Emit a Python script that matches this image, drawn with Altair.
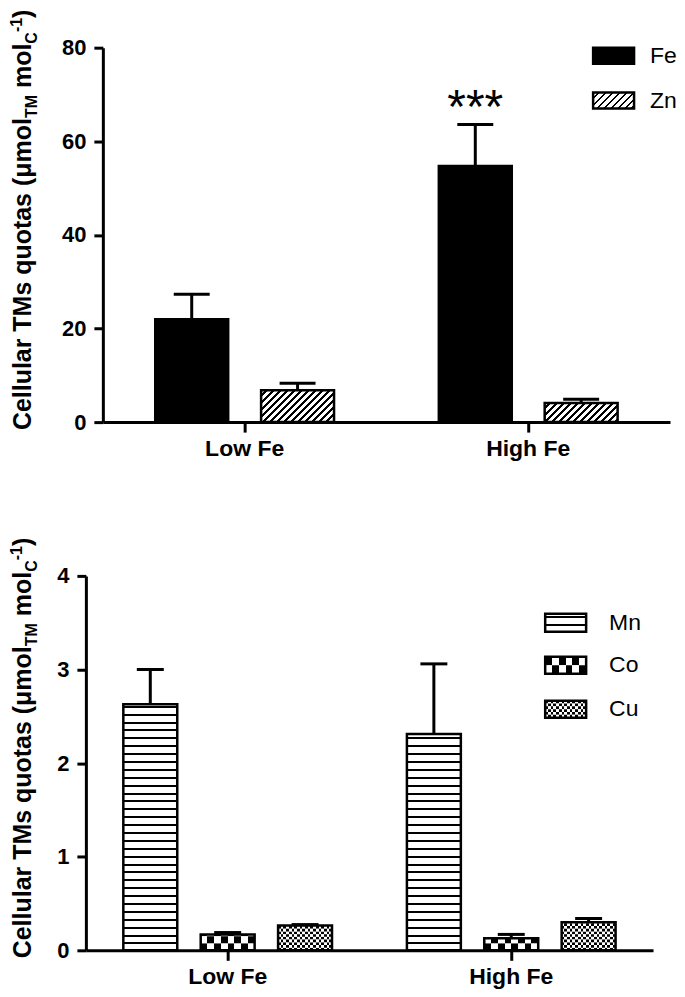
import math
import altair as alt
import pandas as pd

# ---------------- data ----------------
conditions = ["Low Fe", "High Fe"]

top_metals = ["Fe", "Zn"]
fe_mean = [22.0, 54.7]
fe_err = [5.3, 8.9]
zn_mean = [6.8, 4.1]
zn_err = [1.5, 0.8]
fe_signif = ["", "***"]

bottom_metals = ["Mn", "Co", "Cu"]
mn_mean = [2.63, 2.31]
mn_err = [0.37, 0.75]
co_mean = [0.17, 0.13]
co_err = [0.02, 0.04]
cu_mean = [0.265, 0.30]
cu_err = [0.01, 0.04]

top_ticks = [0, 20, 40, 60, 80]
bottom_ticks = [0, 1, 2, 3, 4]

# ---------------- style ----------------
FONT = "Liberation Sans"
W, H = 568, 375
SHIFT = 17          # lower panel sits a little further left
TOP_MAX, BOT_MAX = 80, 4
ONE = pd.DataFrame({"k": [0]})

# Arial/Liberation Sans Bold advance widths (1/1000 em) for the title pieces
ADV = {' ': 278, '(': 333, ')': 333, '-': 333, '1': 556, 'C': 722, 'M': 833,
       'T': 611, 'a': 556, 'e': 556, 'l': 278, 'm': 889, 'o': 611, 'q': 611,
       'r': 389, 's': 556, 't': 333, 'u': 611, 'μ': 611}


def text_width(s, size):
    return sum(ADV.get(c, 556) for c in s) * size / 1000.0


def stripe_stops(n, duty, bg="white", fg="black"):
    pts = []
    k = 0
    while k < n:
        a = min(k / n, 1.0)
        b = min((k + 1 - duty) / n, 1.0)
        c = min((k + 1) / n, 1.0)
        pts += [(a, bg), (b, bg), (b, fg), (c, fg)]
        k += 1
    return [{"offset": round(o, 5), "color": col} for o, col in pts]


def diag_gradient(w, h, period=7.0, duty=0.38):
    r = h / w
    s = (1 + r) / (1 + r * r)
    n = (w + h) / period
    return {"gradient": "linear", "x1": 0, "y1": 0, "x2": round(s, 5),
            "y2": round(s * r, 5), "stops": stripe_stops(n, duty)}


def hline_gradient(h, period=7.9, line=2.0):
    n = h / period
    return {"gradient": "linear", "x1": 0, "y1": 1, "x2": 0, "y2": 0,
            "stops": stripe_stops(n, line / period)}


def col_gradient(ncells, first_black):
    cols = ["black", "white"] if first_black else ["white", "black"]
    stops = []
    for i in range(ncells):
        c = cols[i % 2]
        stops += [{"offset": round(i / ncells, 5), "color": c},
                  {"offset": round((i + 1) / ncells, 5), "color": c}]
    return {"gradient": "linear", "x1": 0, "y1": 0, "x2": 1, "y2": 0, "stops": stops}


def x_axis():
    return alt.Axis(labelFont=FONT, labelFontSize=23, labelFontWeight="bold",
                    labelColor="black", labelAngle=0, labelPadding=5, tickSize=10,
                    tickWidth=3, tickColor="black", domainWidth=3, domainColor="black",
                    grid=False, title=None)


def y_axis(ticks, offset=0):
    return alt.Axis(values=ticks, labelFont=FONT, labelFontSize=22, labelFontWeight="bold",
                    labelColor="black", labelPadding=8, tickSize=9, tickWidth=3,
                    tickColor="black", domainWidth=3, domainColor="black", grid=False,
                    title=None, offset=offset)


def xenc(field, metals, pin, pout, shift=0):
    return {
        "x": alt.X("cond:N", scale=alt.Scale(domain=conditions, paddingInner=0, paddingOuter=0,
                                             range=[-shift, W - shift]),
                   axis=x_axis(), title=None),
        "xOffset": alt.XOffset(f"{field}:N", scale=alt.Scale(domain=metals, paddingInner=pin,
                                                              paddingOuter=pout)),
    }


def yenc(field, ymax, ticks, offset=0):
    return alt.Y(f"{field}:Q", scale=alt.Scale(domain=[0, ymax], nice=False, zero=True),
                 axis=y_axis(ticks, offset), title=None)


TITLE_PIECES = [("Cellular TMs quotas (μmol", 25, 0, 0), ("TM", 16, 6, 0),
                ("mol", 25, 0, text_width(" ", 25)), ("C", 16, 6, 0), ("-1", 16, -9, 0),
                (")", 25, 0, 0)]


def title_layers(xb, yb):
    layers = []
    pos = 0.0
    for txt, size, dy, pre in TITLE_PIECES:
        pos += pre
        layers.append(alt.Chart(ONE).mark_text(
            text=txt, font=FONT, fontSize=size, fontWeight="bold", angle=270, align="left",
            baseline="alphabetic", dx=round(pos, 2), dy=dy, color="black", opacity=1
        ).encode(x=alt.value(xb), y=alt.value(yb)))
        pos += text_width(txt, size)
    return layers


def rect(x0, y0, x1, y1, fill, stroke=True):
    kw = dict(fill=fill, opacity=1)
    if stroke:
        kw.update(stroke="black", strokeWidth=2.5, fillOpacity=1)
    else:
        kw.update(strokeWidth=0)
    return alt.Chart(ONE).mark_rect(**kw).encode(
        x=alt.value(x0), x2=alt.value(x1), y=alt.value(y0), y2=alt.value(y1))


def label(x, y, txt):
    return alt.Chart(ONE).mark_text(text=txt, font=FONT, fontSize=23, align="left",
                                    baseline="middle", color="black", opacity=1).encode(
        x=alt.value(x), y=alt.value(y))


# ---------------- top panel ----------------
top_df = pd.DataFrame({
    "cond": conditions * 2,
    "metal_t": ["Fe"] * 2 + ["Zn"] * 2,
    "mean": fe_mean + zn_mean,
    "err": fe_err + zn_err,
    "sig": fe_signif + ["", ""],
})
top_df["hi"] = top_df["mean"] + top_df["err"]

TX = xenc("metal_t", top_metals, 0.311, 0.495)
top_step = W / 2 / (2 - 0.311 + 2 * 0.495)
top_bw = top_step * (1 - 0.311)
ypx_top = H / TOP_MAX

top_layers = []
top_layers.append(
    alt.Chart(top_df).transform_filter(alt.datum.metal_t == "Fe").mark_bar(
        fill="black", stroke="black", strokeWidth=2.5, opacity=1
    ).encode(y=yenc("mean", TOP_MAX, top_ticks), **TX))
for cond, v in zip(conditions, zn_mean):
    top_layers.append(
        alt.Chart(top_df).transform_filter(
            (alt.datum.metal_t == "Zn") & (alt.datum.cond == cond)
        ).mark_bar(fill=diag_gradient(top_bw, v * ypx_top), stroke="black", strokeWidth=2.5,
                   opacity=1).encode(y=yenc("mean", TOP_MAX, top_ticks), **TX))
top_layers.append(
    alt.Chart(top_df).mark_rule(color="black", strokeWidth=3, opacity=1).encode(
        y=yenc("mean", TOP_MAX, top_ticks), y2="hi:Q", **TX))
top_layers.append(
    alt.Chart(top_df).mark_tick(color="black", thickness=3, size=36, opacity=1).encode(
        y=yenc("hi", TOP_MAX, top_ticks), **TX))
top_layers.append(
    alt.Chart(top_df).mark_text(font=FONT, fontSize=48, align="center", baseline="alphabetic",
                                dy=-1, color="black", opacity=1).encode(
        y=yenc("hi", TOP_MAX, top_ticks), text="sig:N", **TX))
# legend
top_layers += [
    rect(491, 0, 532, 16, "black"), label(548, 8, "Fe"),
    rect(491, 45, 532, 61, diag_gradient(41, 16)), label(548, 53, "Zn"),
]
top_layers += title_layers(-72, 383)

top = alt.layer(*top_layers).properties(width=W, height=H)

# ---------------- bottom panel ----------------
bot_df = pd.DataFrame({
    "cond": conditions * 3,
    "metal_b": ["Mn"] * 2 + ["Co"] * 2 + ["Cu"] * 2,
    "mean": mn_mean + co_mean + cu_mean,
    "err": mn_err + co_err + cu_err,
})
bot_df["hi"] = bot_df["mean"] + bot_df["err"]

BX = xenc("metal_b", bottom_metals, 0.303, 0.484, SHIFT)
ypx_bot = H / BOT_MAX


def ybot(field):
    return yenc(field, BOT_MAX, bottom_ticks, SHIFT)


def checker_rows(metal, means, step_px):
    step = step_px / ypx_bot
    recs = []
    for cond, v in zip(conditions, means):
        k = 0
        while k * step < v - 1e-9:
            recs.append({"cond": cond, "metal_b": metal, "y0": k * step,
                         "y1": min((k + 1) * step, v), "par": k % 2})
            k += 1
    return pd.DataFrame(recs)


bot_layers = []
for cond, v in zip(conditions, mn_mean):
    bot_layers.append(
        alt.Chart(bot_df).transform_filter(
            (alt.datum.metal_b == "Mn") & (alt.datum.cond == cond)
        ).mark_bar(fill=hline_gradient(v * ypx_bot), strokeWidth=0, opacity=1).encode(
            y=ybot("mean"), **BX))
for metal, means, cell, ncells in [("Co", co_mean, 7.0, 8), ("Cu", cu_mean, 2.7, 20)]:
    rows = checker_rows(metal, means, cell)
    for par in (0, 1):
        bot_layers.append(
            alt.Chart(rows).transform_filter(alt.datum.par == par).mark_bar(
                fill=col_gradient(ncells, par == 0), strokeWidth=0, opacity=1
            ).encode(y=ybot("y0"), y2="y1:Q", **BX))
bot_layers.append(
    alt.Chart(bot_df).mark_bar(fillOpacity=0, stroke="black", strokeWidth=2.5, opacity=1).encode(
        y=ybot("mean"), **BX))
bot_layers.append(
    alt.Chart(bot_df).mark_rule(color="black", strokeWidth=3, opacity=1).encode(
        y=ybot("mean"), y2="hi:Q", **BX))
bot_layers.append(
    alt.Chart(bot_df).mark_tick(color="black", thickness=3, size=27, opacity=1).encode(
        y=ybot("hi"), **BX))

# legend (positions relative to the shared plot origin)
LX = 443
bot_layers += [rect(LX, 38, LX + 41, 56, hline_gradient(18)), label(LX + 64, 47, "Mn")]
bot_layers += [rect(LX, 81, LX + 41, 89.5, col_gradient(6, True), stroke=False),
               rect(LX, 89.5, LX + 41, 98, col_gradient(6, False), stroke=False),
               rect(LX, 81, LX + 41, 98, "transparent"), label(LX + 64, 89, "Co")]
cu_rows = 6
for i in range(cu_rows):
    y0 = 125 + i * 17 / cu_rows
    bot_layers.append(rect(LX, y0, LX + 41, y0 + 17 / cu_rows, col_gradient(15, i % 2 == 0),
                           stroke=False))
bot_layers += [rect(LX, 125, LX + 41, 142, "transparent"), label(LX + 64, 133, "Cu")]
bot_layers += title_layers(-72, 383)

bottom = alt.layer(*bot_layers).properties(width=W, height=H)

chart = alt.vconcat(top, bottom, spacing=77).resolve_scale(
    x="independent", y="independent", xOffset="independent"
).properties(padding=0).configure_view(stroke=None)

chart.save("out.html", embed_options={"renderer": "svg", "actions": False})
